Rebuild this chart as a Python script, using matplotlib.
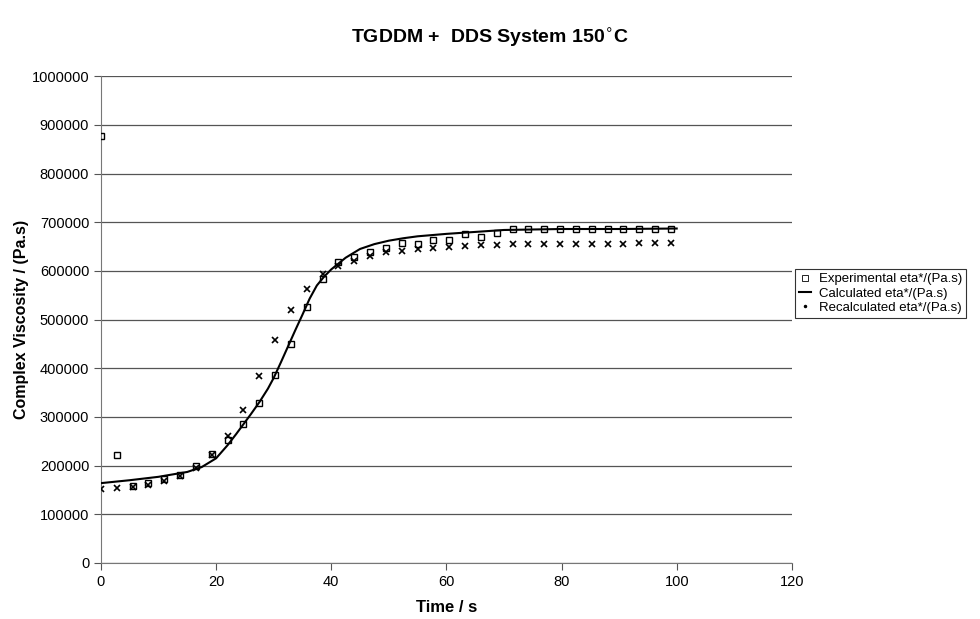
import numpy as np
import matplotlib.pyplot as plt
from matplotlib.lines import Line2D
from matplotlib.ticker import FuncFormatter

plt.rcParams['font.family'] = ['Liberation Sans', 'DejaVu Sans']

# measurement times (s)
time = [0, 2.75, 5.5, 8.25, 11, 13.75, 16.5, 19.25, 22, 24.75, 27.5, 30.25, 33,
        35.75, 38.5, 41.25, 44, 46.75, 49.5, 52.25, 55, 57.75, 60.5, 63.25, 66,
        68.75, 71.5, 74.25, 77, 79.75, 82.5, 85.25, 88, 90.75, 93.5, 96.25, 99]

experimental = [878000, 222000, 158000, 164000, 172000, 181000, 199000, 223000,
                253000, 285000, 329000, 386000, 449000, 525000, 584000, 618000,
                628000, 638000, 647000, 658000, 656000, 663000, 663000, 675000,
                670000, 677000, 685000, 686000, 686000, 686000, 686000, 686000,
                686000, 686000, 686000, 686000, 686000]

recalculated = [151000, 153000, 156000, 161000, 169000, 178000, 195000, 222000,
                261000, 314000, 385000, 459000, 520000, 563000, 593000, 610000,
                620000, 631000, 638000, 641000, 644000, 647000, 650000, 652000,
                653000, 654000, 655000, 655000, 656000, 656000, 656000, 656000,
                656000, 656000, 657000, 657000, 657000]

# calculated curve
calc_time = [0, 5, 10, 15, 17.5, 20, 22, 23.5, 24.75, 26, 27.5, 29, 30, 31.25,
             32.5, 33.75, 35, 36.25, 37.5, 38.75, 40, 41.25, 42.5, 45, 47.5,
             50, 52.5, 55, 60, 65, 70, 75, 80, 90, 100]
calculated = [164000, 170000, 177000, 187000, 197000, 215000, 242000, 265000,
              285000, 305000, 330000, 358000, 380000, 412000, 445000, 478000,
              510000, 543000, 570000, 588000, 603000, 615000, 627000, 645000,
              655000, 662000, 667000, 671000, 676000, 680000, 684000, 685000,
              686000, 686000, 687000]

fig = plt.figure(figsize=(9.8, 6.19), dpi=100)
ax = fig.add_axes([0.103, 0.0905, 0.705, 0.7865])

ax.plot(calc_time, calculated, color='black', lw=1.5, zorder=3)
ax.plot(time, experimental, linestyle='none', marker='s', ms=5,
        mfc='none', mec='black', mew=1.0, zorder=4)
ax.plot(time, recalculated, linestyle='none', marker='x', ms=5,
        color='black', mew=1.2, zorder=4)

ax.set_xlim(0, 120)
ax.set_ylim(0, 1000000)
ax.set_xticks(range(0, 121, 20))
ax.set_yticks(range(0, 1000001, 100000))
ax.yaxis.set_major_formatter(FuncFormatter(lambda v, p: '%d' % v))
ax.yaxis.grid(True, color='#555555', lw=0.9)
ax.set_axisbelow(True)
for s in ['top', 'right']:
    ax.spines[s].set_visible(False)
for s in ['left', 'bottom']:
    ax.spines[s].set_color('#777777')
ax.tick_params(axis='both', labelsize=10.5, length=5, color='#555555', direction='out')

ax.set_xlabel('Time / s', fontsize=12, fontweight='bold', labelpad=8)
ax.set_ylabel('Complex Viscosity / (Pa.s)', fontsize=11.5, fontweight='bold', labelpad=2)
fig.text(0.5, 0.938, 'TGDDM +  DDS System 150$^{\\circ}$C', ha='center', va='center',
         fontsize=14, fontweight='bold')

handles = [Line2D([], [], ls='none', marker='s', ms=5, mfc='none', mec='black', mew=0.6),
           Line2D([], [], color='black', lw=1.5),
           Line2D([], [], ls='none', marker='.', ms=3, color='black')]
labels = ['Experimental eta*/(Pa.s)', 'Calculated eta*/(Pa.s)', 'Recalculated eta*/(Pa.s)']
leg = fig.legend(handles, labels, loc='upper left', bbox_to_anchor=(0.811, 0.565),
                 fontsize=9.5, frameon=True, fancybox=False, handlelength=0.9,
                 handletextpad=0.6, borderpad=0.3, labelspacing=0.15, borderaxespad=0)
leg.get_frame().set_edgecolor('black')
leg.get_frame().set_linewidth(0.8)

fig.savefig('out.png', dpi=100)
